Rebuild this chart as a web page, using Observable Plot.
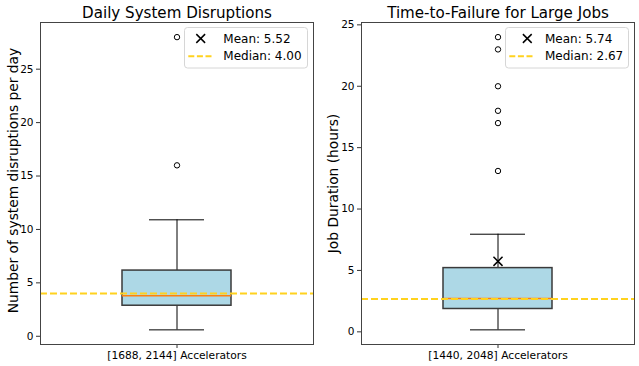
<!DOCTYPE html>
<html>
<head>
<meta charset="utf-8">
<script src="https://cdn.jsdelivr.net/npm/d3@7"></script>
<script src="https://cdn.jsdelivr.net/npm/@observablehq/plot@0.6"></script>
<style>
  html, body { margin: 0; padding: 0; background: #fff; }
  #wrap { position: relative; width: 639px; height: 366px; overflow: hidden; font-family: "DejaVu Sans", sans-serif; }
  #wrap > svg { position: absolute; top: 0; }
</style>
</head>
<body>
<div id="wrap"></div>
<script>
// ---- data ----
const titles = ["Daily System Disruptions", "Time-to-Failure for Large Jobs"];
const categories = ["[1688, 2144] Accelerators", "[1440, 2048] Accelerators"];
const yLabels = ["Number of system disruptions per day", "Job Duration (hours)"];
const q1 = [2.86, 1.86];
const medians = [3.8, 2.72];
const q3 = [6.15, 5.19];
const whiskerLow = [0.6, 0.16];
const whiskerHigh = [10.9, 7.95];
const outliersDisruptions = [16, 28];
const outliersFailure = [13.1, 17, 18, 20, 23, 24];
const outliers = [outliersDisruptions, outliersFailure];
const means = [5.52, 5.74];
const medianRefs = [4.00, 2.67];
const yTicks = [0, 5, 10, 15, 20, 25];

// ---- layout / style ----
const panelLeft = [0, 320];
const panelWidth = [320, 319];
const marginsLeft = [40, 41];
const marginsRight = [7, 5];
const yLabelDx = [-23, -24];
const yLabelDy = [-3, 0];

const wrap = document.getElementById("wrap");

function panel(i) {
  const row = [{cat: categories[i], q1: q1[i], med: medians[i], q3: q3[i], lo: whiskerLow[i], hi: whiskerHigh[i], mean: means[i]}];
  const outs = outliers[i].map(v => ({cat: categories[i], v}));
  const all = [whiskerLow[i], whiskerHigh[i], ...outliers[i]];
  const mn = d3.min(all), mx = d3.max(all), pad = (mx - mn) * 0.05;
  const svg = Plot.plot({
    width: panelWidth[i],
    height: 366,
    marginLeft: marginsLeft[i],
    marginRight: marginsRight[i],
    marginTop: 22,
    marginBottom: 22,
    style: {fontFamily: "DejaVu Sans", fontSize: "10px", background: "transparent", color: "black", overflow: "visible"},
    x: {type: "band", domain: [categories[i]], paddingInner: 0, paddingOuter: 0.75, axis: null},
    y: {domain: [mn - pad, mx + pad], axis: null},
    marks: [
      Plot.dot(row, {x: "cat", y: "mean", symbol: "times", r: 4.2, stroke: "black", strokeWidth: 1.5}),
      Plot.ruleX(row, {x: "cat", y1: "lo", y2: "q1", stroke: "black", strokeWidth: 1}),
      Plot.ruleX(row, {x: "cat", y1: "q3", y2: "hi", stroke: "black", strokeWidth: 1}),
      Plot.tickY(row, {x: "cat", y: "lo", stroke: "black", strokeWidth: 1, insetLeft: 27, insetRight: 27}),
      Plot.tickY(row, {x: "cat", y: "hi", stroke: "black", strokeWidth: 1, insetLeft: 27, insetRight: 27}),
      Plot.barY(row, {x: "cat", y1: "q1", y2: "q3", fill: "#add8e6", stroke: "#3a3a3a", strokeWidth: 1.5}),
      Plot.tickY(row, {x: "cat", y: "med", stroke: "#ff7f0e", strokeWidth: 1.5}),
      Plot.dot(outs, {x: "cat", y: "v", r: 2.7, stroke: "black", fill: "none", strokeWidth: 1}),
      Plot.ruleY([medianRefs[i]], {stroke: "#ffd21f", strokeWidth: 2, strokeDasharray: "7,3"}),
      Plot.axisY({ticks: yTicks, tickSize: 4, tickPadding: 3, label: null, fontSize: 10.5, stroke: "#333"}),
      Plot.axisX({tickSize: 4, tickPadding: 3, label: null, fontSize: 10.7, stroke: "#333"}),
      Plot.frame({stroke: "#444", strokeWidth: 1}),
      Plot.text([titles[i]], {frameAnchor: "top", dy: -5, lineAnchor: "bottom", fontSize: 15.1, fill: "black"}),
      Plot.text([yLabels[i]], {frameAnchor: "left", textAnchor: "middle", rotate: -90, dx: yLabelDx[i], dy: yLabelDy[i], lineAnchor: "bottom", fontSize: 13.8, fill: "black"})
    ]
  });
  svg.style.left = panelLeft[i] + "px";
  wrap.appendChild(svg);
}
panel(0);
panel(1);

// ---- legends (overlay) ----
const legendBox = [{x: 184.5, w: 123}, {x: 505.5, w: 123}];
const markerX = [200.7, 527.3];
const handleX = [188.3, 509.3];
const textX = [223.3, 545];
const overlay = d3.select(wrap).append("svg")
  .attr("width", 639).attr("height", 366)
  .style("left", "0px").style("pointer-events", "none")
  .style("font-family", "DejaVu Sans");
for (let i = 0; i < 2; i++) {
  const g = overlay.append("g");
  g.append("rect").attr("x", legendBox[i].x).attr("y", 27.5).attr("width", legendBox[i].w).attr("height", 40.5)
    .attr("rx", 3).attr("fill", "white").attr("fill-opacity", 0.8).attr("stroke", "#d6d6d6");
  const cx = markerX[i], cy = 38.5, s = 4.4;
  g.append("path").attr("d", `M${cx - s},${cy - s}L${cx + s},${cy + s}M${cx - s},${cy + s}L${cx + s},${cy - s}`)
    .attr("stroke", "black").attr("stroke-width", 1.5);
  g.append("line").attr("x1", handleX[i]).attr("x2", handleX[i] + 24).attr("y1", 56.3).attr("y2", 56.3)
    .attr("stroke", "#ffd21f").attr("stroke-width", 2).attr("stroke-dasharray", "6,2.6");
  g.append("text").attr("x", textX[i]).attr("y", 42.6).attr("font-size", 12).text(`Mean: ${means[i].toFixed(2)}`);
  g.append("text").attr("x", textX[i]).attr("y", 59.6).attr("font-size", 12).text(`Median: ${medianRefs[i].toFixed(2)}`);
}
</script>
</body>
</html>
